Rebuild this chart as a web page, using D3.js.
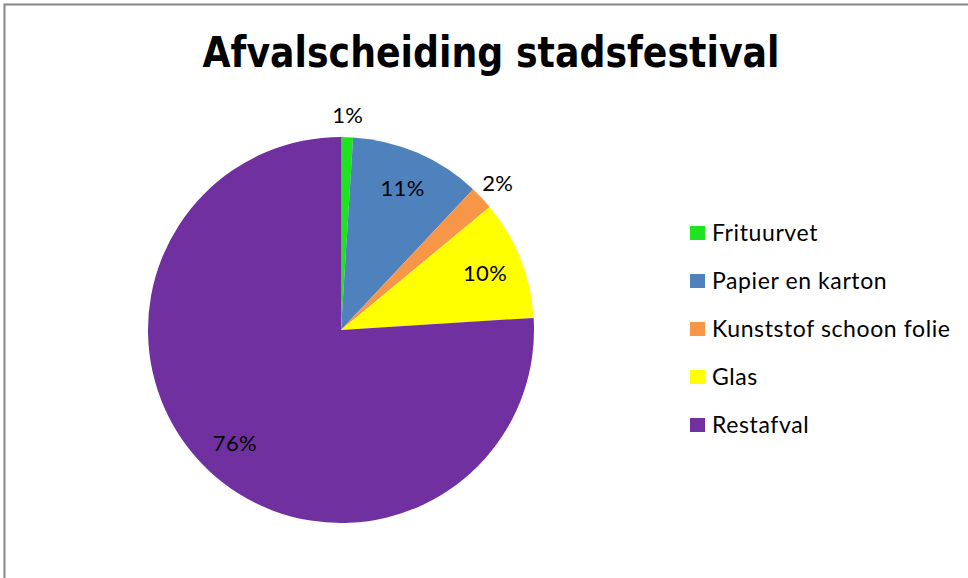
<!DOCTYPE html>
<html>
<head>
<meta charset="utf-8">
<script src="https://cdn.jsdelivr.net/npm/d3@7"></script>
<style>
  html, body { margin: 0; padding: 0; background: #fff; }
  svg { display: block; }
</style>
</head>
<body>
<div id="chart"></div>
<script>
  // data
  const categories = ["Frituurvet", "Papier en karton", "Kunststof schoon folie", "Glas", "Restafval"];
  const values = [1, 11, 2, 10, 76];
  const colors = ["#1ee31e", "#4f81bd", "#f79646", "#ffff00", "#7030a0"];
  const title = "Afvalscheiding stadsfestival";

  const width = 968;
  const height = 578;
  const cx = 341, cy = 330, radius = 193;

  const svg = d3.select("#chart")
    .append("svg")
    .attr("width", width)
    .attr("height", height);

  // chart area border (runs off right and bottom)
  svg.append("rect")
    .attr("x", 4.5)
    .attr("y", 4.5)
    .attr("width", 1000)
    .attr("height", 700)
    .attr("fill", "#fff")
    .attr("stroke", "#868686")
    .attr("stroke-width", 2);

  svg.append("text")
    .attr("x", 491)
    .attr("y", 67)
    .attr("text-anchor", "middle")
    .attr("font-family", "DejaVu Sans")
    .attr("font-weight", "bold")
    .attr("font-size", 42)
    .attr("textLength", 577)
    .attr("lengthAdjust", "spacingAndGlyphs")
    .text(title);

  const data = categories.map((c, i) => ({ name: c, value: values[i], color: colors[i] }));

  const pie = d3.pie()
    .value(d => d.value)
    .sort(null);

  const arc = d3.arc().innerRadius(0).outerRadius(radius);
  const inLabel = d3.arc().innerRadius(155).outerRadius(155);
  const outLabel = d3.arc().innerRadius(215).outerRadius(215);

  const total = d3.sum(values);
  const arcs = pie(data);

  const g = svg.append("g").attr("transform", `translate(${cx},${cy})`);

  g.selectAll("path.slice")
    .data(arcs)
    .join("path")
    .attr("class", "slice")
    .attr("d", arc)
    .attr("fill", d => d.data.color);

  g.selectAll("text.pct")
    .data(arcs)
    .join("text")
    .attr("class", "pct")
    .attr("transform", d => `translate(${(d.data.value < 3 ? outLabel : inLabel).centroid(d)})`)
    .attr("text-anchor", "middle")
    .attr("dy", "0.36em")
    .attr("font-family", "Lato")
    .attr("font-size", 22)
    .attr("letter-spacing", 0.4)
    .attr("fill", "#000")
    .text(d => Math.round(d.data.value / total * 100) + "%");

  // legend
  const legend = svg.append("g").attr("transform", "translate(690,233)");
  const row = legend.selectAll("g")
    .data(data)
    .join("g")
    .attr("transform", (d, i) => `translate(0,${i * 48})`);

  row.append("rect")
    .attr("x", 0)
    .attr("y", -7)
    .attr("width", 15)
    .attr("height", 14)
    .attr("fill", d => d.color);

  row.append("text")
    .attr("x", 22)
    .attr("dy", "0.36em")
    .attr("font-family", "Lato")
    .attr("font-size", 23)
    .attr("letter-spacing", 0.6)
    .attr("fill", "#000")
    .text(d => d.name);
</script>
</body>
</html>
